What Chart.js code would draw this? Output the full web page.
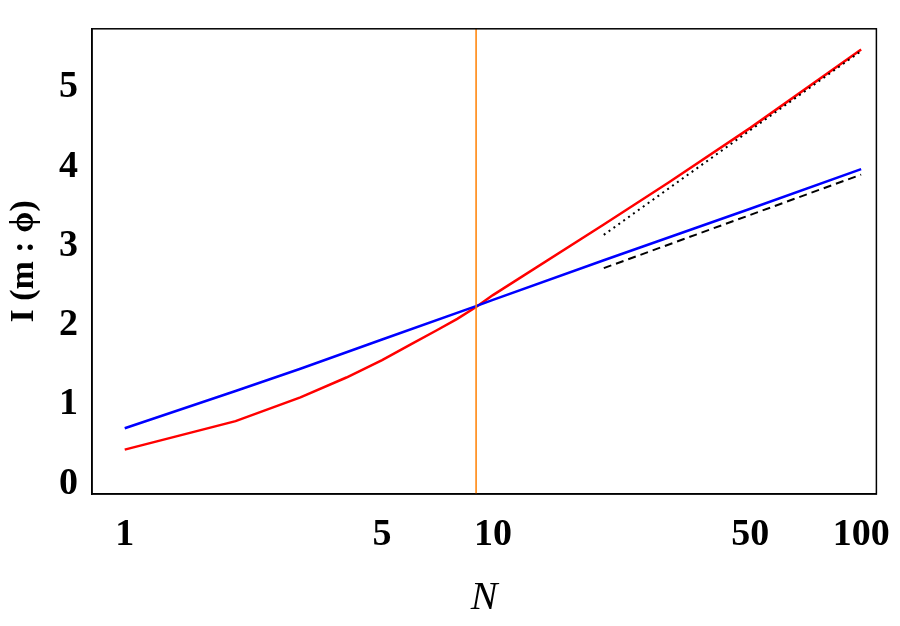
<!DOCTYPE html><html><head><meta charset="utf-8">
<script src="https://cdn.jsdelivr.net/npm/chart.js@4"></script>
<style>html,body{margin:0;background:#fff}#w{width:900px;height:626px}</style></head><body><div id="w"><canvas id="c"></canvas></div>
<script>
const xTicks=[1,5,10,50,100];
const yTicks=[0,1,2,3,4,5];
const redN=[1,2,3,4,5,6,7,8,9,10,20,30,50,100];
const redI=[0.43,0.79,1.09,1.34,1.56,1.76,1.93,2.08,2.23,2.38,3.27,3.80,4.49,5.48];
const blueN=[1,2,3,5,9,10,20,50,100];
const blueI=[0.70,1.17,1.45,1.82,2.24,2.32,2.82,3.47,3.97];
const dotN=[20,100], dotI=[3.14,5.46];
const dashN=[20,100], dashI=[2.72,3.90];
const vlineN=9;
const pts=(xs,ys)=>xs.map((x,i)=>({x,y:ys[i]}));
const frame={id:'frame',afterDraw(c){const a=c.chartArea,g=c.ctx;g.save();g.strokeStyle='#000';g.lineWidth=1.5;g.strokeRect(a.left,a.top,a.right-a.left,a.bottom-a.top);g.restore();}};
new Chart(document.getElementById('c'),{type:'scatter',
data:{datasets:[
{data:[{x:vlineN,y:-0.2},{x:vlineN,y:6}],showLine:true,borderColor:'#ff8000',borderWidth:1.5,pointRadius:0},
{data:pts(dotN,dotI),showLine:true,borderColor:'#000',borderWidth:2,borderDash:[2,4],pointRadius:0},
{data:pts(dashN,dashI),showLine:true,borderColor:'#000',borderWidth:2,borderDash:[8,5],pointRadius:0},
{data:pts(blueN,blueI),showLine:true,borderColor:'#0000ff',borderWidth:2.5,pointRadius:0},
{data:pts(redN,redI),showLine:true,borderColor:'#ff0000',borderWidth:2.5,pointRadius:0}
]},
options:{responsive:true,maintainAspectRatio:false,animation:false,layout:{padding:{top:-14,right:18}},
plugins:{legend:{display:false},tooltip:{enabled:false}},
scales:{
x:{type:'logarithmic',min:0.815,max:110,grid:{display:false},border:{color:'#000',width:1.5},
 afterBuildTicks(s){s.ticks=xTicks.map(v=>({value:v}));},
 ticks:{color:'#000',font:{family:'"Liberation Serif", serif',size:38,weight:'bold'},padding:10,callback:v=>String(v),maxRotation:0,autoSkip:false},
 title:{display:true,text:'N',color:'#000',font:{family:'"Liberation Serif", serif',size:40,style:'italic'},padding:{top:6}},
 afterFit(s){s.height=132;}},
y:{min:-0.13,max:5.74,grid:{display:false},border:{color:'#000',width:1.5},
 afterBuildTicks(s){s.ticks=yTicks.map(v=>({value:v}));},
 ticks:{color:'#000',font:{family:'"Liberation Serif", serif',size:38,weight:'bold'},padding:6},
 title:{display:true,text:'I (m : ϕ)',color:'#000',font:{family:'"Liberation Serif", serif',size:34,weight:'bold'},padding:{bottom:2}},
 afterFit(s){s.width=92;}}
}},plugins:[frame]});
</script></body></html>
